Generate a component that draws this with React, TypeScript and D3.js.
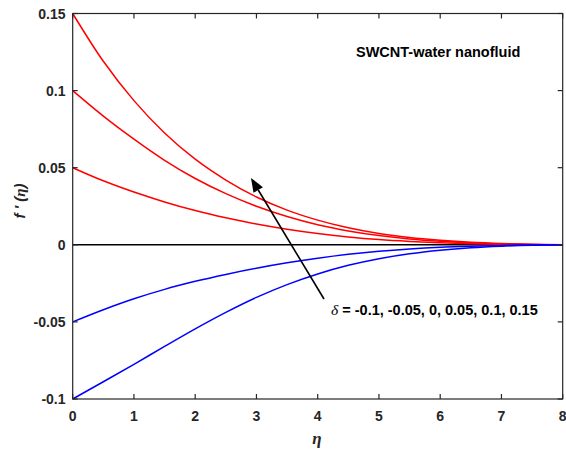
import React from "react";
import * as d3 from "d3";

const etaValues = [0, 0.5, 1, 1.5, 2, 2.5, 3, 3.5, 4, 4.5, 5, 5.5, 6, 6.5, 7, 7.5, 8];
const deltaP015 = [0.15, 0.119, 0.0935, 0.0725, 0.0555, 0.042, 0.031, 0.0225, 0.016, 0.011, 0.0073, 0.0047, 0.0029, 0.0016, 0.0008, 0.0003, 0];
const deltaP010 = [0.1, 0.0835, 0.0685, 0.0548, 0.043, 0.0332, 0.025, 0.0183, 0.013, 0.009, 0.006, 0.0038, 0.0023, 0.0013, 0.0006, 0.0002, 0];
const deltaP005 = [0.05, 0.0415, 0.0342, 0.0278, 0.0222, 0.0175, 0.0135, 0.0101, 0.0073, 0.0051, 0.0034, 0.0022, 0.0013, 0.0007, 0.0003, 0.0001, 0];
const deltaZero = [0, 0, 0, 0, 0, 0, 0, 0, 0, 0, 0, 0, 0, 0, 0, 0, 0];
const deltaM005 = [-0.05, -0.0421, -0.035, -0.0289, -0.0237, -0.0192, -0.0152, -0.0117, -0.0087, -0.0062, -0.0042, -0.0027, -0.0016, -0.0009, -0.0004, -0.0001, 0];
const deltaM010 = [-0.1, -0.0888, -0.0775, -0.0659, -0.0545, -0.0438, -0.0341, -0.0258, -0.0189, -0.0133, -0.009, -0.0058, -0.0035, -0.0019, -0.0009, -0.0003, 0];

const xTicks = [0, 1, 2, 3, 4, 5, 6, 7, 8];
const yTicks = [-0.1, -0.05, 0, 0.05, 0.1, 0.15];
const yTickLabels = ["-0.1", "-0.05", "0", "0.05", "0.1", "0.15"];

const series = [
  { values: deltaP015, color: "#ff0000" },
  { values: deltaP010, color: "#ff0000" },
  { values: deltaP005, color: "#ff0000" },
  { values: deltaM005, color: "#0000ff" },
  { values: deltaM010, color: "#0000ff" },
];

export default function App() {
  const W = 566, H = 452;
  const left = 72.7, right = 562.7, top = 13.5, bottom = 399;
  const x = d3.scaleLinear().domain([0, 8]).range([left, right]);
  const y = d3.scaleLinear().domain([-0.1, 0.15]).range([bottom, top]);
  const line = d3
    .line<number>()
    .x((_, i) => x(etaValues[i]))
    .y((d) => y(d))
    .curve(d3.curveCatmullRom.alpha(0.5));
  const font = "Arial, 'Liberation Sans', Helvetica, sans-serif";
  const serif = "'Times New Roman', 'Liberation Serif', serif";
  const axisColor = "#262626";
  const tickLen = 5;

  // arrow
  const tail = { x: 324, y: 299 };
  const head = { x: 251, y: 178 };
  const ang = Math.atan2(head.y - tail.y, head.x - tail.x);
  const ahLen = 14, ahW = 5.5;
  const bx = head.x - ahLen * Math.cos(ang);
  const by = head.y - ahLen * Math.sin(ang);
  const px = -Math.sin(ang), py = Math.cos(ang);
  const arrowHead = `M${head.x},${head.y} L${bx + ahW * px},${by + ahW * py} L${bx - ahW * px},${by - ahW * py} Z`;

  return (
    <svg width={W} height={H} style={{ position: "absolute", left: 0, top: 0, background: "#fff" }}>
      <rect x={0} y={0} width={W} height={H} fill="#fff" />
      <path d={line(deltaZero) || ""} fill="none" stroke="#000" strokeWidth={1.6} />
      {series.map((s, i) => (
        <path key={i} d={line(s.values) || ""} fill="none" stroke={s.color} strokeWidth={1.5} />
      ))}
      <rect x={left} y={top} width={right - left} height={bottom - top} fill="none" stroke={axisColor} strokeWidth={1.2} />
      {xTicks.map((t) => (
        <g key={"x" + t}>
          <line x1={x(t)} x2={x(t)} y1={bottom} y2={bottom - tickLen} stroke={axisColor} strokeWidth={1.2} />
          <line x1={x(t)} x2={x(t)} y1={top} y2={top + tickLen} stroke={axisColor} strokeWidth={1.2} />
          <text x={x(t)} y={420.5} textAnchor="middle" fontFamily={font} fontWeight="bold" fontSize={14} fill={axisColor}>
            {t}
          </text>
        </g>
      ))}
      {yTicks.map((t, i) => (
        <g key={"y" + t}>
          <line x1={left} x2={left + tickLen} y1={y(t)} y2={y(t)} stroke={axisColor} strokeWidth={1.2} />
          <line x1={right} x2={right - tickLen} y1={y(t)} y2={y(t)} stroke={axisColor} strokeWidth={1.2} />
          <text x={65.5} y={y(t) + 5} textAnchor="end" fontFamily={font} fontWeight="bold" fontSize={14} fill={axisColor}>
            {yTickLabels[i]}
          </text>
        </g>
      ))}
      <line x1={tail.x} y1={tail.y} x2={bx} y2={by} stroke="#000" strokeWidth={1.6} />
      <path d={arrowHead} fill="#000" />
      <text x={356} y={56.5} fontFamily={font} fontWeight="bold" fontSize={14.5} fill="#000">
        SWCNT-water nanofluid
      </text>
      <text x={331} y={315} fontFamily={font} fontWeight="bold" fontSize={14.5} fill="#000">
        <tspan fontStyle="italic" fontWeight="normal" fontFamily={serif} fontSize={15.5}>δ</tspan>
        {" = -0.1, -0.05, 0, 0.05, 0.1, 0.15"}
      </text>
      <text x={317} y={444} textAnchor="middle" fontFamily={serif} fontStyle="italic" fontWeight="bold" fontSize={17} fill={axisColor}>
        η
      </text>
      <text
        transform={`translate(25,201) rotate(-90)`}
        textAnchor="middle"
        fontFamily={font}
        fontWeight="bold"
        fontStyle="italic"
        fontSize={15}
        fill={axisColor}
      >
        f ′ (
        <tspan fontFamily={serif}>η</tspan>)
      </text>
    </svg>
  );
}
